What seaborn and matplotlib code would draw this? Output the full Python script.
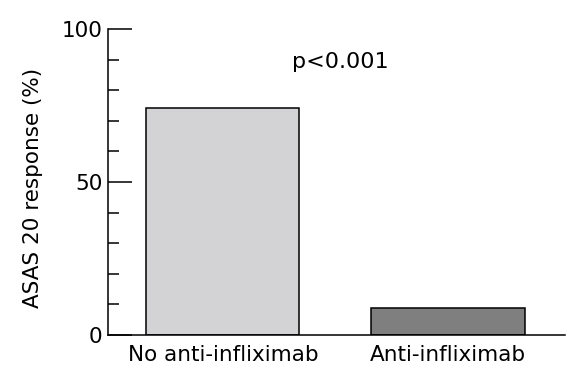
import matplotlib
matplotlib.use("Agg")
import matplotlib.pyplot as plt
import seaborn as sns
import pandas as pd
from matplotlib.ticker import MultipleLocator

categories = ["No anti-infliximab", "Anti-infliximab"]
values = [74.2, 8.8]
colors = ["#d3d3d5", "#7f7f7f"]

sns.set_style("white")
plt.rcParams['font.family'] = ['DejaVu Sans']
plt.rcParams['text.color'] = 'black'
plt.rcParams['axes.labelcolor'] = 'black'
plt.rcParams['xtick.color'] = 'black'
plt.rcParams['ytick.color'] = 'black'

df = pd.DataFrame({"group": categories, "value": values})

fig = plt.figure(figsize=(5.76, 3.75), dpi=100)
ax = fig.add_axes([0.1875, 0.1067, 0.7935, 0.816])
sns.barplot(data=df, x="group", y="value", hue="group", palette=colors,
            width=0.68, edgecolor="black", linewidth=1.1, legend=False, ax=ax, saturation=1)

ax.set_xlim(-0.51, 1.52)
ax.set_ylim(0, 100)
ax.set_yticks([0, 50, 100])
ax.yaxis.set_minor_locator(MultipleLocator(10))
ax.tick_params(axis="y", which="major", direction="in", length=17, width=1.1, labelsize=15.5, pad=4, left=True)
ax.tick_params(axis="y", which="minor", direction="in", length=8, width=1.1, left=True)
ax.tick_params(axis="x", length=0, labelsize=15.5, pad=7)
for s in ["top", "right"]:
    ax.spines[s].set_visible(False)
for s in ["left", "bottom"]:
    ax.spines[s].set_color("black")
    ax.spines[s].set_linewidth(1.1)
ax.set_xlabel("")
ax.set_ylabel("ASAS 20 response (%)", fontsize=15.5)
ax.yaxis.set_label_coords(-0.142, 0.479)
ax.text(0.52, 89.2, "p<0.001", fontsize=16, ha="center", va="center")

fig.savefig("out.png", dpi=100)
